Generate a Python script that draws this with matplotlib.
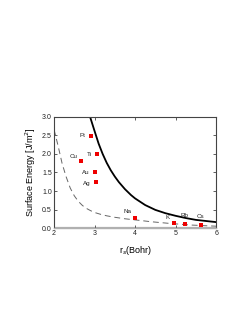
import matplotlib
matplotlib.use("Agg")
import matplotlib.pyplot as plt

# theory curves
rs_solid = [2.89, 3.0, 3.1, 3.2, 3.3, 3.4, 3.5, 3.6, 3.75, 3.9, 4.0, 4.25, 4.5, 4.75, 5.0, 5.25, 5.5, 5.75, 6.0]
e_solid = [3.0, 2.62, 2.28, 2.0, 1.76, 1.56, 1.39, 1.24, 1.05, 0.89, 0.80, 0.62, 0.49, 0.40, 0.33, 0.27, 0.22, 0.19, 0.16]

rs_dash = [2.0, 2.05, 2.1, 2.15, 2.2, 2.3, 2.4, 2.5, 2.6, 2.7, 2.8, 2.9, 3.0, 3.15, 3.3, 3.5, 3.75, 4.0, 4.4, 4.9, 5.4, 6.0]
e_dash = [2.66, 2.44, 2.22, 1.98, 1.74, 1.38, 1.08, 0.87, 0.72, 0.61, 0.53, 0.47, 0.42, 0.37, 0.33, 0.29, 0.25, 0.22, 0.17, 0.12, 0.08, 0.05]

# measured metals
metals = ["Pt", "Ti", "Cu", "Au", "Ag", "Na", "K", "Rb", "Cs"]
rs_metal = [2.91, 3.06, 2.67, 3.02, 3.03, 3.99, 4.95, 5.23, 5.62]
e_metal = [2.49, 1.99, 1.80, 1.50, 1.25, 0.26, 0.14, 0.12, 0.09]

LABEL_OFFSETS = {
    "Pt": (-4, 0, "right", "center"),
    "Ti": (-4, 0, "right", "center"),
    "Cu": (-3, 2, "right", "bottom"),
    "Au": (-4, 0, "right", "center"),
    "Ag": (-4, -1, "right", "center"),
    "Na": (-2, 3, "right", "bottom"),
    "K": (-3, 2, "right", "bottom"),
    "Rb": (0, 4, "center", "bottom"),
    "Cs": (0, 4, "center", "bottom"),
}

plt.rcParams["font.family"] = ["Liberation Sans", "DejaVu Sans"]

fig = plt.figure(figsize=(2.49, 3.23), dpi=100)
ax = fig.add_axes([0.217, 0.294, 0.651, 0.344])

ax.axhline(0, color="#b0b0b0", lw=1.6, zorder=1)
ax.plot(rs_dash, e_dash, color="#666666", lw=0.7, ls=(0, (6, 4)), zorder=2)
ax.plot(rs_solid, e_solid, color="black", lw=1.3, zorder=2)
ax.scatter(rs_metal, e_metal, marker="s", s=12, color="#ee0000", zorder=3, linewidths=0)

for name, x, y in zip(metals, rs_metal, e_metal):
    dx, dy, ha, va = LABEL_OFFSETS[name]
    ax.annotate(name, (x, y), xytext=(dx, dy), textcoords="offset points",
                ha=ha, va=va, fontsize=4.5, color="#222222")

ax.set_xlim(2, 6)
ax.set_ylim(0, 3.0)
ax.set_xticks([2, 3, 4, 5, 6])
ax.set_yticks([0.0, 0.5, 1.0, 1.5, 2.0, 2.5, 3.0])
ax.set_yticklabels([f"{v:.1f}" for v in ax.get_yticks()])
ax.tick_params(direction="in", length=2, width=0.6, labelsize=5, pad=1.5,
               top=True, right=True, colors="#444444", labelcolor="#222222")
for side in ["left", "right", "top"]:
    ax.spines[side].set_color("#444444")
    ax.spines[side].set_linewidth(0.8)
ax.spines["bottom"].set_color("#b0b0b0")
ax.spines["bottom"].set_linewidth(1.0)

ax.set_ylabel("Surface Energy [J/m$^2$]", fontsize=6.5, labelpad=3)
ax.set_xlabel("r$_s$(Bohr)", fontsize=6.5, labelpad=5)

fig.savefig("out.png", dpi=100)
